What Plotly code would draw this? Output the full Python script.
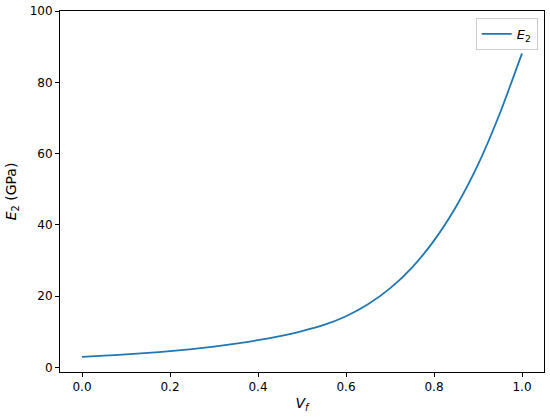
import plotly.graph_objects as go

# Fiber volume fraction
vf = [0.00, 0.05, 0.10, 0.15, 0.20, 0.25, 0.30, 0.35, 0.40, 0.45, 0.50,
      0.55, 0.60, 0.65, 0.70, 0.75, 0.80, 0.85, 0.90, 0.95, 1.00]
# Transverse modulus E2 in GPa
e2 = [3.00, 3.32, 3.68, 4.10, 4.59, 5.17, 5.86, 6.68, 7.66, 8.83, 10.23,
      11.95, 14.4, 17.75, 22.2, 28.05, 35.6, 45.1, 56.9, 71.4, 88.1]

x_ticks = [0.0, 0.2, 0.4, 0.6, 0.8, 1.0]
x_tick_labels = ["0.0", "0.2", "0.4", "0.6", "0.8", "1.0"]
y_ticks = [0, 20, 40, 60, 80, 100]
y_tick_labels = ["0", "20", "40", "60", "80", "100"]

fig = go.Figure()
fig.add_trace(go.Scatter(
    x=vf, y=e2, mode="lines", name="<i>E</i><sub>2</sub>",
    line=dict(color="#1f77b4", width=1.8, shape="spline", smoothing=0.6),
))

font = dict(family="DejaVu Sans", size=12, color="#000000")
fig.update_layout(
    width=550, height=418,
    margin=dict(l=60, r=6, t=11, b=46, autoexpand=False),
    paper_bgcolor="white", plot_bgcolor="white",
    font=font,
    showlegend=True,
    legend=dict(
        x=0.987, y=0.981, xanchor="right", yanchor="top",
        bgcolor="rgba(255,255,255,0.8)", bordercolor="#cccccc", borderwidth=1,
        font=dict(family="DejaVu Sans", size=13),
    ),
    xaxis=dict(
        range=[-0.05, 1.05], tickvals=x_ticks, ticktext=x_tick_labels,
        showgrid=False, zeroline=False, showline=True, mirror=True,
        linecolor="#000000", linewidth=1, ticks="outside", ticklen=4,
        tickcolor="#000000", tickwidth=1, automargin=False,
        title=dict(text="<i>V</i><sub><i>f</i></sub>", standoff=4),
    ),
    yaxis=dict(
        range=[-1.25, 100], tickvals=y_ticks, ticktext=y_tick_labels,
        showgrid=False, zeroline=False, showline=True, mirror=True,
        linecolor="#000000", linewidth=1, ticks="outside", ticklen=4,
        tickcolor="#000000", tickwidth=1, automargin=False,
        title=dict(text="<i>E</i><sub>2</sub> (GPa)", standoff=9),
    ),
)

fig.write_html(
    "out.html",
    config={"displayModeBar": False},
    post_script="document.body.style.margin='0';document.body.style.overflow='hidden';",
)
